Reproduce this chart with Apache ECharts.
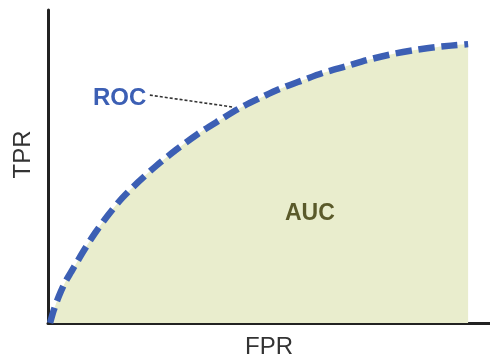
<!DOCTYPE html>
<html>
<head>
<meta charset="utf-8">
<script src="https://cdn.jsdelivr.net/npm/echarts@6/dist/echarts.min.js"></script>
<style>
html,body{margin:0;padding:0;background:#fff;}
#c{width:490px;height:354px;}
</style>
</head>
<body>
<div id="c"></div>
<script>
// FPR (x) and TPR (y) values
const fpr = [0.005, 0.014, 0.026, 0.040, 0.055, 0.069, 0.083, 0.112, 0.143, 0.176, 0.214, 0.257, 0.304, 0.356, 0.404, 0.456, 0.504, 0.551, 0.606, 0.653, 0.710, 0.758, 0.817, 0.872, 0.926, 0.998];
const tpr = [0.000, 0.042, 0.086, 0.128, 0.163, 0.195, 0.227, 0.288, 0.345, 0.399, 0.450, 0.502, 0.553, 0.604, 0.645, 0.687, 0.719, 0.748, 0.776, 0.799, 0.821, 0.840, 0.859, 0.872, 0.882, 0.891];
const xName = 'FPR';
const yName = 'TPR';
const curveLabel = 'ROC';
const areaLabel = 'AUC';
// leader line from ROC label to the curve (data coords)
const leaderFrom = [0.242, 0.728];
const leaderTo = [0.439, 0.690];

const chart = echarts.init(document.getElementById('c'), null, {renderer: 'canvas'});
const FONT = '"Liberation Sans", Arial, sans-serif';
chart.setOption({
  animation: false,
  backgroundColor: '#ffffff',
  grid: {left: 48, right: 0, top: 10, bottom: 31, containLabel: false, outerBoundsMode: 'none'},
  xAxis: {
    type: 'value', min: 0, max: 1.05,
    name: xName, nameLocation: 'middle', nameGap: 12,
    nameTextStyle: {fontSize: 24, color: '#333333', fontFamily: FONT},
    axisLine: {show: true, lineStyle: {color: '#222222', width: 3}},
    axisTick: {show: false}, axisLabel: {show: false}, splitLine: {show: false}
  },
  yAxis: {
    type: 'value', min: 0, max: 1,
    name: yName, nameLocation: 'middle', nameGap: 13, nameRotate: 90,
    nameTextStyle: {fontSize: 24, color: '#333333', fontFamily: FONT, padding: [0, 0, 0, 24]},
    axisLine: {show: true, lineStyle: {color: '#222222', width: 3}},
    axisTick: {show: false}, axisLabel: {show: false}, splitLine: {show: false}
  },
  series: [{
    type: 'line',
    data: fpr.map((x, i) => [x, tpr[i]]),
    smooth: 0.3,
    showSymbol: false,
    z: 3,
    lineStyle: {color: '#3c5fb4', width: 6.5, type: [16, 7], cap: 'butt'},
    areaStyle: {color: '#e9edcd', opacity: 1},
    markLine: {
      silent: true, symbol: 'none',
      label: {show: false},
      lineStyle: {color: '#333333', width: 1.6, type: [3, 2]},
      data: [[{coord: leaderFrom}, {coord: leaderTo}]]
    }
  }],
  graphic: [
    {type: 'text', left: 93, top: 86, z: 10,
     style: {text: curveLabel, fontSize: 24, fontWeight: 'bold', fill: '#3c5fb4', fontFamily: FONT}},
    {type: 'text', left: 285, top: 202, z: 10,
     style: {text: areaLabel, fontSize: 23, fontWeight: 'bold', fill: '#5a5a2a', fontFamily: FONT}}
  ]
});
</script>
</body>
</html>
